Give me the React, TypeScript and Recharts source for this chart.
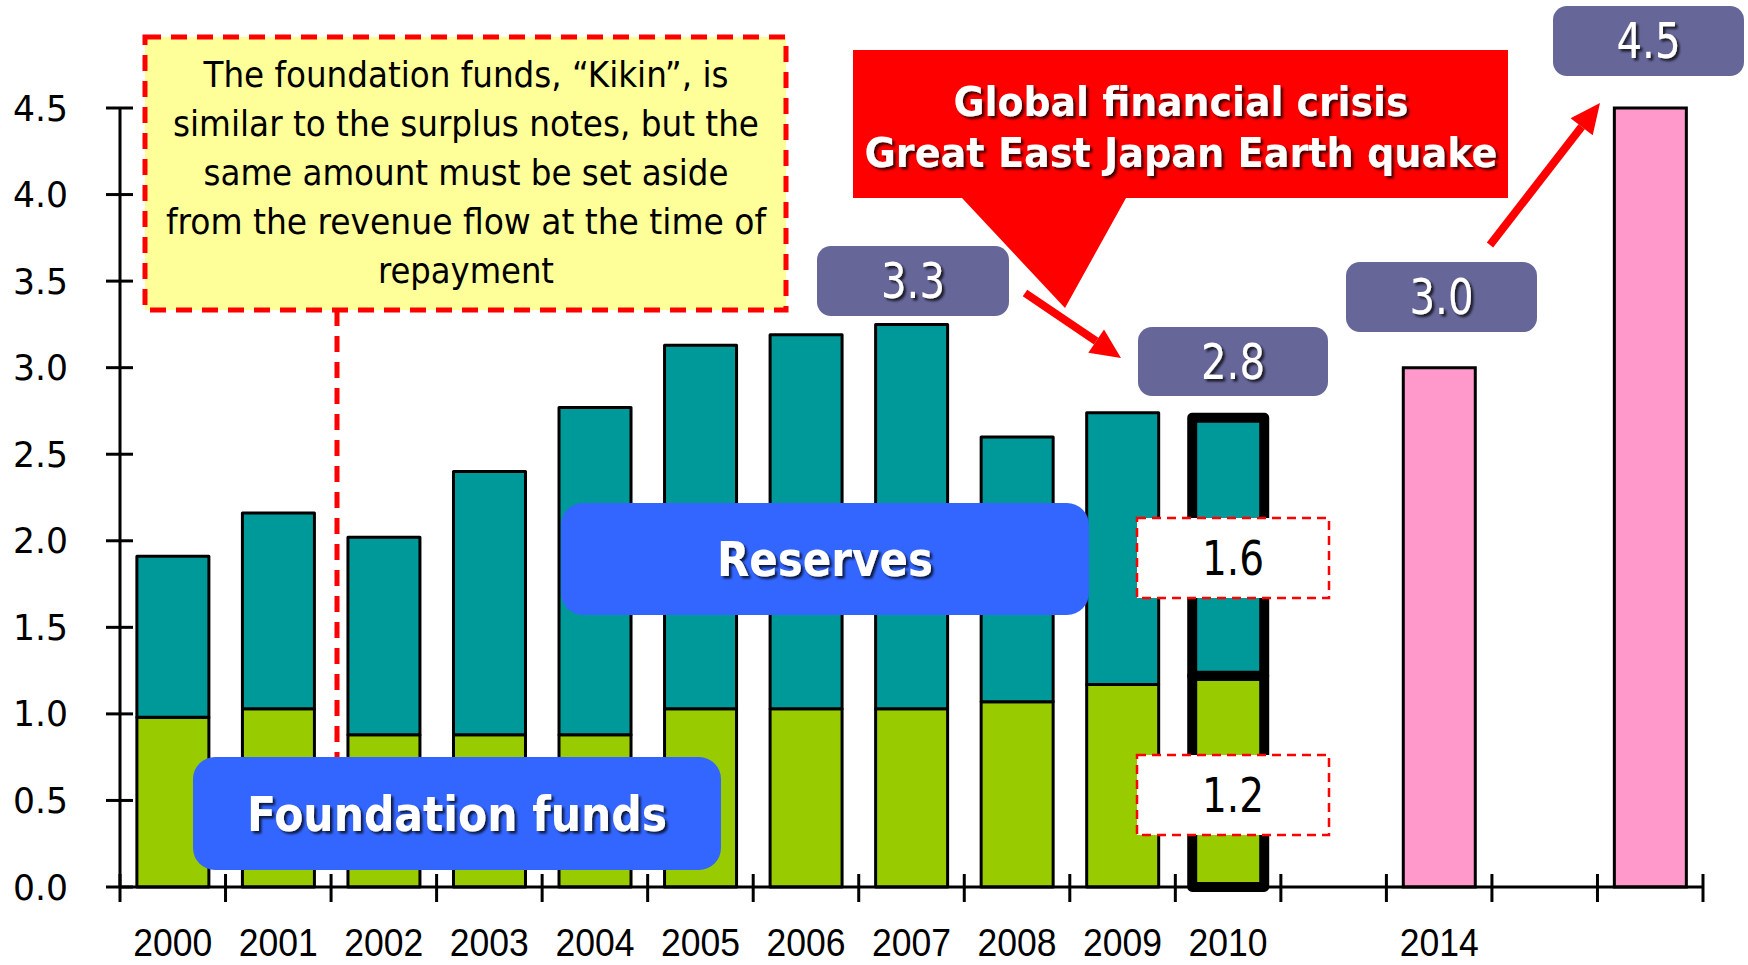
import React from "react";
import { BarChart, Bar, XAxis, YAxis, Cell } from "recharts";

// categories (blank ones are empty slots on the axis)
const years = ["2000", "2001", "2002", "2003", "2004", "2005", "2006", "2007", "2008", "2009", "2010", "", "2014", "", ""];
// foundation funds ("Kikin"), trillion yen
const foundationFunds = [0.98, 1.03, 0.88, 0.88, 0.88, 1.03, 1.03, 1.03, 1.07, 1.17, 1.22, null, null, null, null];
// reserves, stacked on top
const reserves = [0.93, 1.13, 1.14, 1.52, 1.89, 2.1, 2.16, 2.22, 1.53, 1.57, 1.49, null, null, null, null];
// target / projected totals
const projected = [null, null, null, null, null, null, null, null, null, null, null, null, 3.0, null, 4.5];
const yTicks = [0, 0.5, 1, 1.5, 2, 2.5, 3, 3.5, 4, 4.5];

const rows = years.map((year, i) => ({
  year,
  funds: foundationFunds[i],
  reserves: reserves[i],
  projected: projected[i],
}));

const W = 1748;
const H = 965;
const AXIS_X = 120;
const AXIS_Y = 887;
const RIGHT = 45;
const BAND = (W - AXIS_X - RIGHT) / years.length;
const HIGHLIGHT = 10; // 2010 bar gets the heavy outline

const green = "#99CC00";
const teal = "#009999";
const pink = "#FF99CC";
const slate = "#666699";
const blue = "#3366FF";
const red = "#FF0000";
const font = "'DejaVu Sans Condensed', 'DejaVu Sans', sans-serif";

const XTick = (props: any) => {
  const { x, payload, index } = props;
  const left = x - BAND / 2;
  return (
    <g>
      <line x1={left} x2={left} y1={AXIS_Y - 13} y2={AXIS_Y + 15} stroke="#000" strokeWidth={3} />
      {index === years.length - 1 && (
        <line x1={x + BAND / 2} x2={x + BAND / 2} y1={AXIS_Y - 13} y2={AXIS_Y + 15} stroke="#000" strokeWidth={3} />
      )}
      {payload.value ? (
        <text
          x={x}
          y={956}
          textAnchor="middle"
          fontSize={38}
          fontFamily="'Liberation Sans', Arial, sans-serif"
          textLength={79}
          lengthAdjust="spacingAndGlyphs"
          fill="#000"
        >
          {payload.value}
        </text>
      ) : null}
    </g>
  );
};

const YTick = (props: any) => {
  const { y, payload } = props;
  return (
    <g>
      <line x1={AXIS_X - 14} x2={AXIS_X + 13} y1={y} y2={y} stroke="#000" strokeWidth={3} />
      <text
        x={68}
        y={y}
        dy="0.36em"
        textAnchor="end"
        fontSize={35}
        fontFamily="'DejaVu Sans', sans-serif"
        textLength={55}
        lengthAdjust="spacingAndGlyphs"
        fill="#000"
      >
        {Number(payload.value).toFixed(1)}
      </text>
    </g>
  );
};

const ValueTag = ({ x, y, w, h, text, fill, textFill, dashed, size = 50, len = 64 }: any) => (
  <g>
    <rect
      x={x}
      y={y}
      width={w}
      height={h}
      rx={dashed ? 0 : 14}
      fill={fill}
      stroke={dashed ? red : "none"}
      strokeWidth={dashed ? 2.5 : 0}
      strokeDasharray={dashed ? "9 6" : undefined}
    />
    <text
      x={x + w / 2}
      y={y + h / 2 + 17}
      textAnchor="middle"
      fontSize={size}
      fontFamily={font}
      fill={textFill}
      textLength={len}
      lengthAdjust="spacingAndGlyphs"
      filter={dashed ? undefined : "url(#shadow)"}
    >
      {text}
    </text>
  </g>
);

const Arrow = ({ x1, y1, x2, y2 }: any) => {
  const a = Math.atan2(y2 - y1, x2 - x1);
  const head = 30;
  const half = 14;
  const bx = x2 - head * Math.cos(a);
  const by = y2 - head * Math.sin(a);
  const px = -Math.sin(a) * half;
  const py = Math.cos(a) * half;
  return (
    <g>
      <line x1={x1} y1={y1} x2={bx} y2={by} stroke={red} strokeWidth={8} />
      <polygon points={`${x2},${y2} ${bx + px},${by + py} ${bx - px},${by - py}`} fill={red} />
    </g>
  );
};

const note = [
  { t: "The foundation funds, \u201cKikin\u201d, is", len: 525 },
  { t: "similar to the surplus notes, but the", len: 586 },
  { t: "same amount must be set aside", len: 525 },
  { t: "from the revenue flow at the time of", len: 600 },
  { t: "repayment", len: 176 },
];

const Annotations = () => (
  <svg width={W} height={H} style={{ position: "absolute", left: 0, top: 0, pointerEvents: "none" }}>
    <defs>
      <filter id="shadow" x="-10%" y="-10%" width="120%" height="130%">
        <feDropShadow dx="2.5" dy="2.5" stdDeviation="0.8" floodColor="#000" floodOpacity="0.75" />
      </filter>
    </defs>

    {/* explanatory note */}
    <line x1={337} x2={337} y1={310} y2={757} stroke={red} strokeWidth={5} strokeDasharray="16 10" />
    <rect x={145} y={37} width={641} height={273} fill="#FFFF99" stroke={red} strokeWidth={5} strokeDasharray="16 10" />
    {note.map((l, i) => (
      <text
        key={i}
        x={466}
        y={87 + i * 49}
        textAnchor="middle"
        fontSize={36}
        fontFamily={font}
        textLength={l.len}
        lengthAdjust="spacingAndGlyphs"
        fill="#000"
      >
        {l.t}
      </text>
    ))}

    {/* crisis callout */}
    <path d="M853,50 H1508 V198 H1126 L1065,308 L962,198 H853 Z" fill={red} />
    <text x={1181} y={116} textAnchor="middle" fontSize={41} fontWeight="bold" fontFamily={font} fill="#fff"
      textLength={455} lengthAdjust="spacingAndGlyphs" filter="url(#shadow)">
      Global financial crisis
    </text>
    <text x={1181} y={167} textAnchor="middle" fontSize={41} fontWeight="bold" fontFamily={font} fill="#fff"
      textLength={633} lengthAdjust="spacingAndGlyphs" filter="url(#shadow)">
      Great East Japan Earth quake
    </text>

    <Arrow x1={1025} y1={293} x2={1121} y2={358} />
    <Arrow x1={1490} y1={245} x2={1600} y2={103} />

    <ValueTag x={817} y={246} w={192} h={70} text="3.3" fill={slate} textFill="#fff" />
    <ValueTag x={1138} y={327} w={190} h={69} text="2.8" fill={slate} textFill="#fff" />
    <ValueTag x={1346} y={262} w={191} h={70} text="3.0" fill={slate} textFill="#fff" />
    <ValueTag x={1553} y={6} w={191} h={70} text="4.5" fill={slate} textFill="#fff" />

    <ValueTag x={1137} y={518} w={192} h={80} text="1.6" fill="#fff" textFill="#000" dashed size={48} len={62} />
    <ValueTag x={1137} y={755} w={192} h={80} text="1.2" fill="#fff" textFill="#000" dashed size={48} len={62} />

    {/* series labels */}
    <rect x={561} y={503} width={528} height={112} rx={22} fill={blue} />
    <text x={825} y={576} textAnchor="middle" fontSize={48} fontWeight="bold" fontFamily={font} fill="#fff"
      textLength={216} lengthAdjust="spacingAndGlyphs" filter="url(#shadow)">
      Reserves
    </text>
    <rect x={193} y={757} width={528} height={113} rx={22} fill={blue} />
    <text x={457} y={831} textAnchor="middle" fontSize={48} fontWeight="bold" fontFamily={font} fill="#fff"
      textLength={420} lengthAdjust="spacingAndGlyphs" filter="url(#shadow)">
      Foundation funds
    </text>
  </svg>
);

const App = () => {
  return (
    <div style={{ position: "absolute", left: 0, top: 0, width: W, height: H, background: "#fff" }}>
      <BarChart
        width={W}
        height={H}
        data={rows}
        margin={{ top: 108, right: RIGHT, bottom: 0, left: 0 }}
        barCategoryGap="16%"
      >
        <XAxis
          dataKey="year"
          height={H - AXIS_Y}
          interval={0}
          axisLine={{ stroke: "#000", strokeWidth: 3 }}
          tickLine={false}
          tick={(p: any) => <XTick {...p} />}
        />
        <YAxis
          width={AXIS_X}
          domain={[0, 4.5]}
          ticks={yTicks}
          interval={0}
          axisLine={{ stroke: "#000", strokeWidth: 3 }}
          tickLine={false}
          tick={(p: any) => <YTick {...p} />}
        />
        <Bar dataKey="funds" stackId="s" fill={green} stroke="#000" strokeWidth={3} isAnimationActive={false}>
          {rows.map((r, i) => (
            <Cell key={`f-${i}`} fill={green} stroke="#000" strokeWidth={i === HIGHLIGHT ? 10 : 3} strokeLinejoin="round" />
          ))}
        </Bar>
        <Bar dataKey="reserves" stackId="s" fill={teal} stroke="#000" strokeWidth={3} isAnimationActive={false}>
          {rows.map((r, i) => (
            <Cell key={`r-${i}`} fill={teal} stroke="#000" strokeWidth={i === HIGHLIGHT ? 10 : 3} strokeLinejoin="round" />
          ))}
        </Bar>
        <Bar dataKey="projected" stackId="s" fill={pink} stroke="#000" strokeWidth={3} isAnimationActive={false} />
      </BarChart>
      <Annotations />
    </div>
  );
};

export default App;
